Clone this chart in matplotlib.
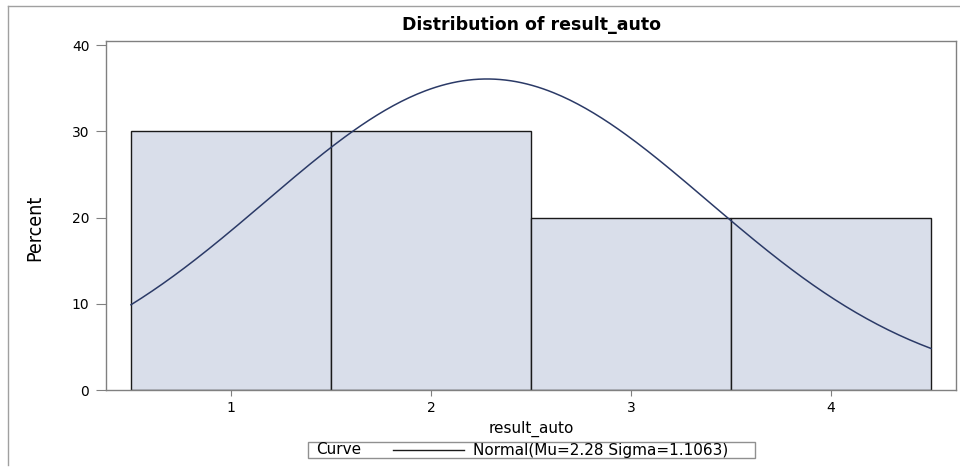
import numpy as np
import matplotlib
matplotlib.use("Agg")
from matplotlib import pyplot as plt
from matplotlib.patches import Rectangle
from matplotlib.lines import Line2D

# datos del histograma
bin_centers = [1, 2, 3, 4]
percents = [30, 30, 20, 20]
bin_width = 1.0
mu = 2.28
sigma = 1.1063
yticks = [0, 10, 20, 30, 40]

plt.rcParams['font.family'] = ['DejaVu Sans']

W, H = 960, 467
fig = plt.figure(figsize=(W / 100, H / 100), dpi=100)

def px(x, y):
    # pixel (arriba-izquierda) -> coordenadas de figura
    return x / W, 1 - y / H

ax = fig.add_axes([106 / W, 1 - 390 / H, 850 / W, (390 - 41.3) / H])

# barras
ax.bar(bin_centers, percents, width=bin_width, color='#D9DEEA',
       edgecolor='#1a1a1a', linewidth=1.0, zorder=2)

# curva normal escalada a porcentaje
xs = np.linspace(bin_centers[0] - bin_width / 2, bin_centers[-1] + bin_width / 2, 300)
ys = 100 * bin_width * np.exp(-0.5 * ((xs - mu) / sigma) ** 2) / (sigma * np.sqrt(2 * np.pi))
ax.plot(xs, ys, color='#2B3A67', linewidth=1.1, zorder=3)

ax.set_xlim(0.375, 4.625)
ax.set_ylim(0, 40.43)
ax.set_xticks(bin_centers)
ax.set_yticks(yticks)
for s in ax.spines.values():
    s.set_color('#808080')
    s.set_linewidth(1.0)
ax.tick_params(direction='out', color='#808080', labelsize=10)
ax.tick_params(axis='x', length=4, pad=4)
ax.tick_params(axis='y', length=7, pad=5)

ax.set_title('Distribution of result_auto', fontsize=12.5, fontweight='bold', pad=8)
ax.set_xlabel('result_auto', fontsize=11, labelpad=4)
fig.text(35 / W, 1 - 228 / H, 'Percent', rotation=90, ha='center', va='center',
         fontsize=14, family='DejaVu Sans', stretch='condensed')

# marco exterior
fig.add_artist(Line2D([8 / W, 8 / W], [1 - 465 / H, 1 - 6 / H], transform=fig.transFigure,
                      color='#a0a0a0', linewidth=1.0))
fig.add_artist(Line2D([8 / W, 1.0], [1 - 6 / H, 1 - 6 / H], transform=fig.transFigure,
                      color='#a0a0a0', linewidth=1.0))

# leyenda
x0, y0 = px(308, 458)
x1, y1 = px(755, 442)
fig.add_artist(Rectangle((x0, y0), x1 - x0, y1 - y0, transform=fig.transFigure,
                         facecolor='white', edgecolor='#909090', linewidth=1.0))
ymid = (y0 + y1) / 2
fig.text(316 / W, ymid, 'Curve', fontsize=11, va='center', ha='left')
fig.add_artist(Line2D([393 / W, 464 / W], [ymid, ymid], transform=fig.transFigure,
                      color='#1a1a1a', linewidth=1.0))
fig.text(473 / W, ymid, 'Normal(Mu=%.2f Sigma=%.4f)' % (mu, sigma), fontsize=11,
         va='center', ha='left')

fig.savefig('out.png', dpi=100)
